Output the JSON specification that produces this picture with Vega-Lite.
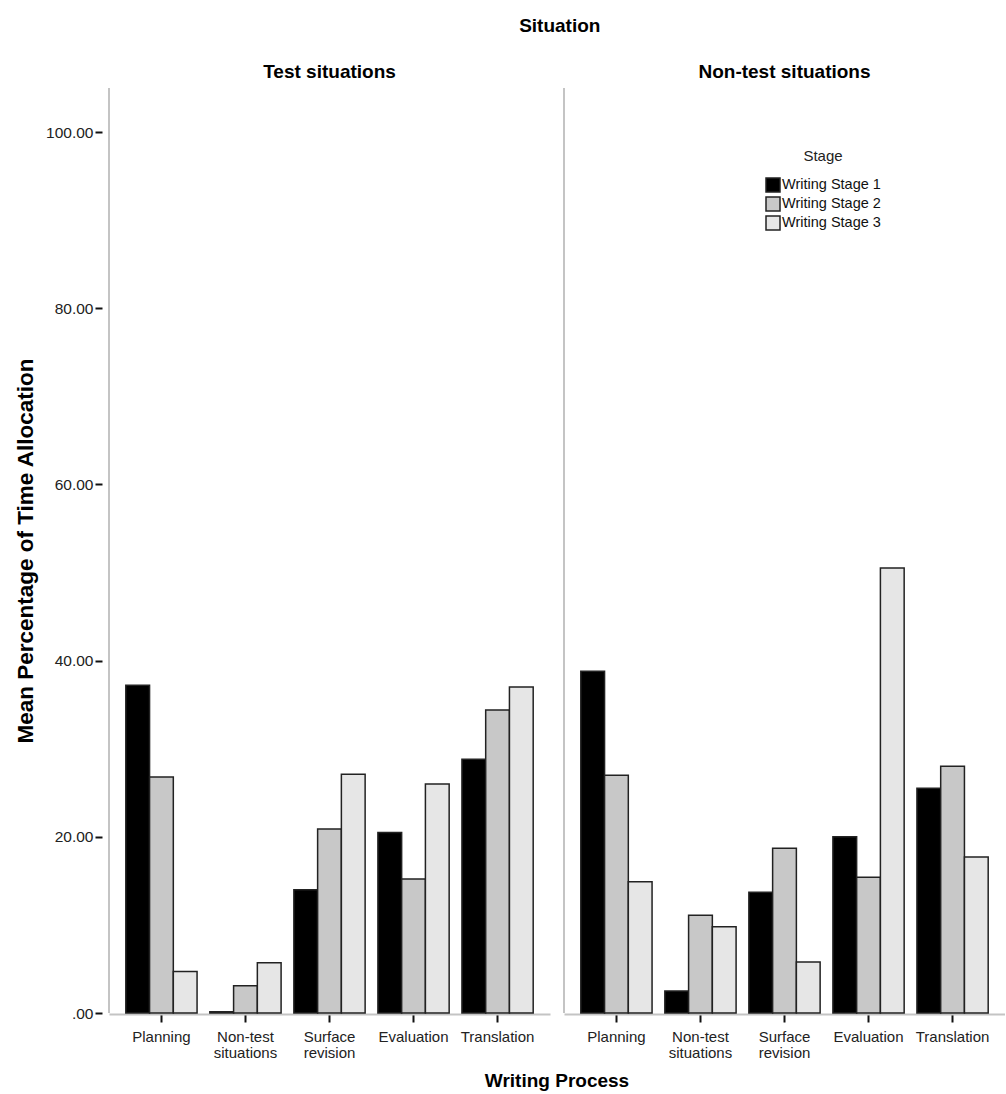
{
  "$schema": "https://vega.github.io/schema/vega-lite/v6.json",
  "background": "white",
  "padding": {"left": 14, "top": 17, "right": 0, "bottom": 5},
  "title": {
    "text": "Situation",
    "anchor": "middle",
    "frame": "bounds",
    "dx": 50,
    "font": "Liberation Sans",
    "fontSize": 19,
    "fontWeight": "bold",
    "color": "#000000",
    "offset": 27
  },
  "data": {
    "values": [
      {"Situation": "Test situations", "Process": "Planning", "Stage": "Writing Stage 1", "Value": 37.2},
      {"Situation": "Test situations", "Process": "Planning", "Stage": "Writing Stage 2", "Value": 26.8},
      {"Situation": "Test situations", "Process": "Planning", "Stage": "Writing Stage 3", "Value": 4.7},
      {"Situation": "Test situations", "Process": "Non-test situations", "Stage": "Writing Stage 1", "Value": 0.15},
      {"Situation": "Test situations", "Process": "Non-test situations", "Stage": "Writing Stage 2", "Value": 3.1},
      {"Situation": "Test situations", "Process": "Non-test situations", "Stage": "Writing Stage 3", "Value": 5.7},
      {"Situation": "Test situations", "Process": "Surface revision", "Stage": "Writing Stage 1", "Value": 14.0},
      {"Situation": "Test situations", "Process": "Surface revision", "Stage": "Writing Stage 2", "Value": 20.9},
      {"Situation": "Test situations", "Process": "Surface revision", "Stage": "Writing Stage 3", "Value": 27.1},
      {"Situation": "Test situations", "Process": "Evaluation", "Stage": "Writing Stage 1", "Value": 20.5},
      {"Situation": "Test situations", "Process": "Evaluation", "Stage": "Writing Stage 2", "Value": 15.2},
      {"Situation": "Test situations", "Process": "Evaluation", "Stage": "Writing Stage 3", "Value": 26.0},
      {"Situation": "Test situations", "Process": "Translation", "Stage": "Writing Stage 1", "Value": 28.8},
      {"Situation": "Test situations", "Process": "Translation", "Stage": "Writing Stage 2", "Value": 34.4},
      {"Situation": "Test situations", "Process": "Translation", "Stage": "Writing Stage 3", "Value": 37.0},
      {"Situation": "Non-test situations", "Process": "Planning", "Stage": "Writing Stage 1", "Value": 38.8},
      {"Situation": "Non-test situations", "Process": "Planning", "Stage": "Writing Stage 2", "Value": 27.0},
      {"Situation": "Non-test situations", "Process": "Planning", "Stage": "Writing Stage 3", "Value": 14.9},
      {"Situation": "Non-test situations", "Process": "Non-test situations", "Stage": "Writing Stage 1", "Value": 2.5},
      {"Situation": "Non-test situations", "Process": "Non-test situations", "Stage": "Writing Stage 2", "Value": 11.1},
      {"Situation": "Non-test situations", "Process": "Non-test situations", "Stage": "Writing Stage 3", "Value": 9.8},
      {"Situation": "Non-test situations", "Process": "Surface revision", "Stage": "Writing Stage 1", "Value": 13.7},
      {"Situation": "Non-test situations", "Process": "Surface revision", "Stage": "Writing Stage 2", "Value": 18.7},
      {"Situation": "Non-test situations", "Process": "Surface revision", "Stage": "Writing Stage 3", "Value": 5.8},
      {"Situation": "Non-test situations", "Process": "Evaluation", "Stage": "Writing Stage 1", "Value": 20.0},
      {"Situation": "Non-test situations", "Process": "Evaluation", "Stage": "Writing Stage 2", "Value": 15.4},
      {"Situation": "Non-test situations", "Process": "Evaluation", "Stage": "Writing Stage 3", "Value": 50.5},
      {"Situation": "Non-test situations", "Process": "Translation", "Stage": "Writing Stage 1", "Value": 25.5},
      {"Situation": "Non-test situations", "Process": "Translation", "Stage": "Writing Stage 2", "Value": 28.0},
      {"Situation": "Non-test situations", "Process": "Translation", "Stage": "Writing Stage 3", "Value": 17.7}
    ]
  },
  "facet": {
    "column": {
      "field": "Situation",
      "type": "nominal",
      "sort": ["Test situations", "Non-test situations"],
      "title": "Writing Process",
      "header": {
        "labelOrient": "top",
        "titleOrient": "bottom",
        "labelFont": "Liberation Sans",
        "labelFontSize": 19,
        "labelFontWeight": "bold",
        "labelColor": "#000000",
        "labelPadding": 5,
        "titleFont": "Liberation Sans",
        "titleFontSize": 19,
        "titleFontWeight": "bold",
        "titleColor": "#000000",
        "titlePadding": 2
      }
    }
  },
  "spacing": 13,
  "spec": {
    "width": 441,
    "height": 925,
    "layer": [
      {
        "mark": {"type": "bar", "stroke": "#222222", "strokeWidth": 1.5},
        "encoding": {
          "x": {
            "field": "Process",
            "type": "nominal",
            "sort": ["Planning", "Non-test situations", "Surface revision", "Evaluation", "Translation"],
            "scale": {"paddingInner": 0.152, "paddingOuter": 0.2},
            "axis": {
              "title": null,
              "labelAngle": 0,
              "labelExpr": "datum.label == 'Non-test situations' ? ['Non-test', 'situations'] : datum.label == 'Surface revision' ? ['Surface', 'revision'] : datum.label",
              "labelFont": "Liberation Sans",
              "labelFontSize": 15,
              "labelColor": "#222222",
              "labelPadding": 7,
              "labelLineHeight": 16,
              "domainColor": "#c4c4c4",
              "domainWidth": 2,
              "tickColor": "#111111",
              "tickWidth": 2,
              "tickSize": 8
            }
          },
          "xOffset": {
            "field": "Stage",
            "type": "nominal",
            "scale": {"paddingInner": 0, "paddingOuter": 0}
          },
          "y": {
            "field": "Value",
            "type": "quantitative",
            "scale": {"domain": [0, 105], "nice": false},
            "axis": {
              "title": "Mean Percentage of Time Allocation",
              "titleFont": "Liberation Sans",
              "titleFontSize": 22.5,
              "titleFontWeight": "bold",
              "titleColor": "#000000",
              "titlePadding": 8,
              "offset": 6,
              "values": [0, 20, 40, 60, 80, 100],
              "labelExpr": "datum.value == 0 ? '.00' : format(datum.value, '.2f')",
              "labelFont": "Liberation Sans",
              "labelFontSize": 15.5,
              "labelColor": "#222222",
              "labelPadding": 2,
              "domain": false,
              "grid": false,
              "tickColor": "#111111",
              "tickWidth": 2,
              "tickSize": 7
            }
          },
          "fill": {
            "field": "Stage",
            "type": "nominal",
            "scale": {
              "domain": ["Writing Stage 1", "Writing Stage 2", "Writing Stage 3"],
              "range": ["#000000", "#c8c8c8", "#e6e6e6"]
            },
            "legend": {
              "title": "Stage",
              "orient": "none",
              "legendX": 656,
              "legendY": 61,
              "titleFont": "Liberation Sans",
              "titleFontSize": 15,
              "titleFontWeight": "normal",
              "titleColor": "#222222",
              "titleAnchor": "middle",
              "titlePadding": 13,
              "labelFont": "Liberation Sans",
              "labelFontSize": 14.5,
              "labelColor": "#111111",
              "labelOffset": 1,
              "symbolType": "square",
              "symbolSize": 196,
              "symbolStrokeColor": "#222222",
              "symbolStrokeWidth": 1.5,
              "rowPadding": -1
            }
          }
        }
      },
      {
        "transform": [{"filter": "datum.Process == 'Planning' && datum.Stage == 'Writing Stage 1'"}],
        "mark": {"type": "rule", "color": "#c4c4c4", "strokeWidth": 2},
        "encoding": {
          "x": {"datum": "Planning", "type": "nominal", "bandPosition": -0.2358}
        }
      }
    ]
  },
  "config": {
    "view": {"stroke": null}
  }
}
